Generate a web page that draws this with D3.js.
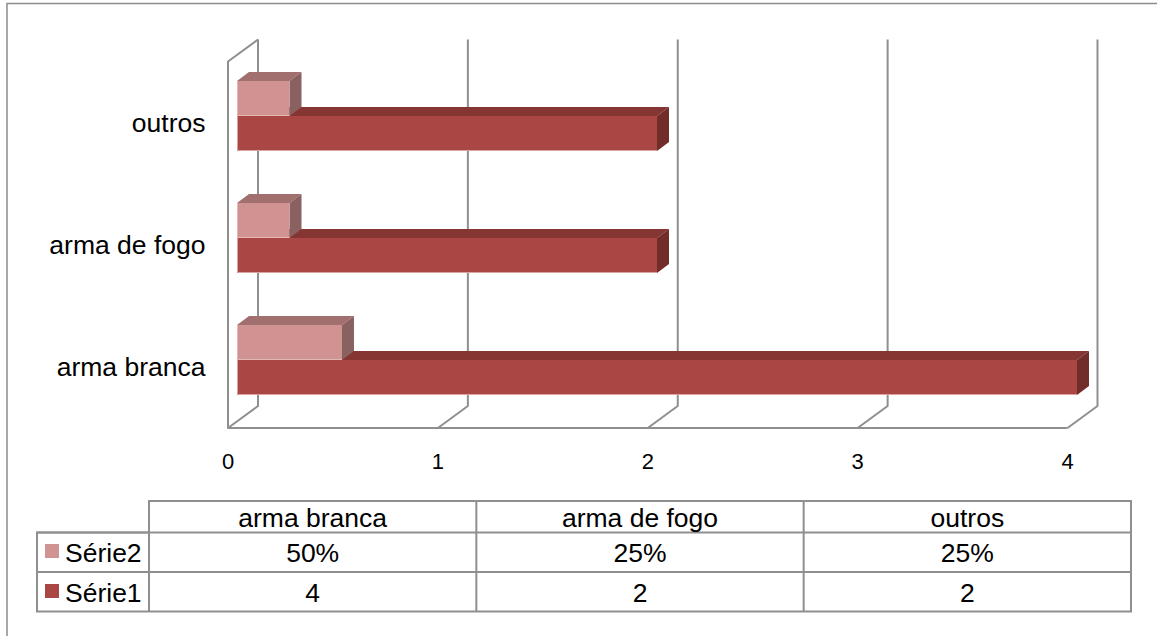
<!DOCTYPE html>
<html>
<head>
<meta charset="utf-8">
<script src="https://cdn.jsdelivr.net/npm/d3@7/dist/d3.min.js"></script>
<style>
  html, body { margin: 0; padding: 0; background: #fff; }
  svg { display: block; }
  text { font-family: "Liberation Sans", Arial, sans-serif; fill: #000; }
</style>
</head>
<body>
<svg id="chart" width="1157" height="636"></svg>
<script>
// Chart data
const categories = ["arma branca", "arma de fogo", "outros"];
const serie1 = [4, 2, 2];
const serie2 = [0.5, 0.25, 0.25];
const serie2Labels = ["50%", "25%", "25%"];
const xTicks = [0, 1, 2, 3, 4];

// Layout of the pseudo-3D plot
const W = 1157, H = 636;
const gridColor = "#8f8f8f";
const labelSize = 26.5;
const wall = { dx: 30, dy: 22, top: 61.5, bottom: 428 };
const bar = { dx: 12, dy: 9, h: 35 };
const colors = {
  s1: { front: "#aa4643", top: "#853532", side: "#722d2b", edge: "#d9a3a1" },
  s2: { front: "#d09392", top: "#a06f6e", side: "#886160", edge: "#e2b8b7" }
};

const svg = d3.select("#chart");

// Outer frame: only the top and left edges are visible
svg.append("path")
  .attr("d", d3.line()([[7, H], [7, 3.5], [W, 3.5]]))
  .attr("fill", "none").attr("stroke", "#8c8c8c").attr("stroke-width", 1.5);

// Floor-plane value scale, and the bar scale sitting inside the box
const xFloor = d3.scaleLinear().domain([0, 4]).range([228, 1067.5]);
const xBar = d3.scaleLinear().domain([0, 4]).range([237, 1077]);
// Vertical position of the seam between the two bars of each category
const yCat = d3.scalePoint().domain(categories).range([360, 116]);

// Walls and floor of the 3D box
const box = svg.append("g").attr("fill", "none")
  .attr("stroke", gridColor).attr("stroke-width", 2).attr("stroke-linejoin", "round");

xTicks.forEach(t => {
  const x = xFloor(t);
  const pts = [[x, wall.bottom], [x + wall.dx, wall.bottom - wall.dy], [x + wall.dx, wall.top - wall.dy]];
  box.append("path").attr("d", d3.line()(pts));
});
box.append("path").attr("d", d3.line()([
  [xFloor(0) + wall.dx, wall.top - wall.dy],
  [xFloor(0), wall.top],
  [xFloor(0), wall.bottom],
  [xFloor(4), wall.bottom]
]));

// Draw one extruded horizontal bar: side and top faces, then the front
function drawBar(g, x0, x1, y0, c) {
  const { dx, dy, h } = bar;
  g.append("path").attr("fill", c.top)
    .attr("d", d3.line()([[x0, y0], [x0 + dx, y0 - dy], [x1 + dx, y0 - dy], [x1, y0]]) + "Z");
  g.append("path").attr("fill", c.side)
    .attr("d", d3.line()([[x1, y0], [x1 + dx, y0 - dy], [x1 + dx, y0 + h - dy], [x1, y0 + h]]) + "Z");
  g.append("rect").attr("x", x0).attr("y", y0).attr("width", x1 - x0).attr("height", h)
    .attr("fill", c.front);
  g.append("path").attr("fill", "none").attr("stroke", c.edge).attr("stroke-width", 1)
    .attr("d", d3.line()([[x0 + 0.5, y0], [x0 + 0.5, y0 + h - 0.5], [x1, y0 + h - 0.5]]));
}

const bars = svg.append("g");
categories.forEach((cat, i) => {
  const seam = yCat(cat);
  drawBar(bars, xBar(0), xBar(serie1[i]), seam, colors.s1);
  drawBar(bars, xBar(0), xBar(serie2[i]), seam - bar.h, colors.s2);
});

// Category labels
svg.append("g").selectAll("text").data(categories).join("text")
  .attr("x", 205.5)
  .attr("y", d => yCat(d) + 16)
  .attr("text-anchor", "end")
  .attr("font-size", labelSize)
  .text(d => d);

// Value labels under the floor
svg.append("g").selectAll("text").data(xTicks).join("text")
  .attr("x", d => xFloor(d))
  .attr("y", 469)
  .attr("text-anchor", "middle")
  .attr("font-size", 22)
  .text(d => d);

// Data table beneath the plot
const colX = d3.scalePoint().domain([0, 1, 2, 3]).range([149, 1131]);
const rowY = [501, 532.5, 572, 611.5];
const table = svg.append("g").attr("fill", "none")
  .attr("stroke", gridColor).attr("stroke-width", 2);
table.append("path").attr("d", d3.line()([[colX(0), rowY[1]], [colX(0), rowY[0]], [colX(3), rowY[0]], [colX(3), rowY[3]], [37, rowY[3]], [37, rowY[1]], [colX(0), rowY[1]]]));
[rowY[1], rowY[2]].forEach(y => table.append("line").attr("x1", 37).attr("x2", colX(3)).attr("y1", y).attr("y2", y));
[0, 1, 2].forEach(c => table.append("line").attr("x1", colX(c)).attr("x2", colX(c)).attr("y1", rowY[0]).attr("y2", rowY[3]));

const cell = (x, y, s) => svg.append("text")
  .attr("x", x).attr("y", y).attr("text-anchor", "middle").attr("font-size", labelSize).text(s);

categories.forEach((cat, i) => {
  const cx = (colX(i) + colX(i + 1)) / 2;
  cell(cx, 526.5, cat);
  cell(cx, 562, serie2Labels[i]);
  cell(cx, 601.5, serie1[i]);
});

// Legend keys and series names in the first column
[["Série2", colors.s2.front, 561.5, 544], ["Série1", colors.s1.front, 601.5, 584]].forEach(([name, fill, base, keyY]) => {
  svg.append("rect").attr("x", 45).attr("y", keyY).attr("width", 14).attr("height", 14).attr("fill", fill);
  svg.append("text").attr("x", 65).attr("y", base).attr("font-size", labelSize).text(name);
});
</script>
</body>
</html>
